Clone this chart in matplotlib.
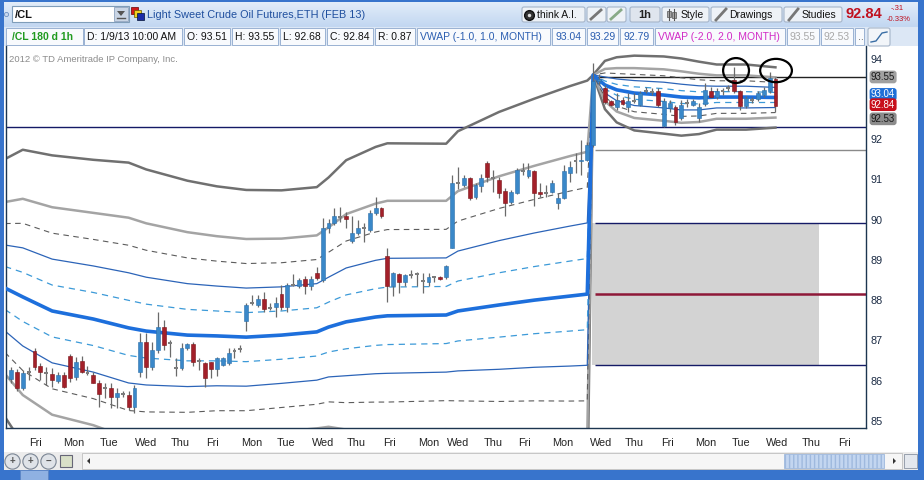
import numpy as np
import matplotlib
matplotlib.use('Agg')
import matplotlib.pyplot as plt
from matplotlib.patches import Rectangle, FancyBboxPatch, Ellipse, Polygon
from matplotlib.colors import LinearSegmentedColormap
from matplotlib.transforms import blended_transform_factory, offset_copy

plt.rcParams['font.family'] = ['Liberation Sans', 'DejaVu Sans']

# /CL hourly candles, Dec 7 2012 -> Jan 9 2013 (one entry per bar)
opens = [86.04, 86.22, 85.81, 86.21, 86.74, 86.35, 86.20, 86.16, 85.99, 86.14,
         86.61, 86.08, 86.49, 86.19, 86.15, 85.95, 85.81, 85.81, 85.58, 85.67,
         85.64, 85.34, 86.22, 86.97, 86.33, 86.76, 87.34, 86.93, 86.30, 86.31,
         86.80, 86.90, 86.48, 86.43, 86.45, 86.28, 86.39, 86.43, 86.74, 86.78,
         87.47, 87.92, 87.88, 88.03, 87.80, 87.82, 88.15, 87.84, 88.38, 88.36,
         88.52, 88.34, 88.67, 88.50, 89.79, 89.91, 90.08, 90.09, 89.48, 89.68,
         89.79, 89.75, 90.16, 90.29, 89.10, 88.34, 88.65, 88.46, 88.63, 88.65,
         88.49, 88.46, 88.57, 88.57, 88.57, 89.29, 90.92, 90.87, 91.03, 90.57,
         90.84, 91.41, 91.03, 90.99, 90.72, 90.43, 90.67, 91.22, 91.09, 91.20,
         90.70, 90.68, 90.70, 90.41, 90.53, 91.17, 91.47, 91.45, 91.49, 91.86,
         93.45, 93.28, 92.94, 92.81, 92.98, 92.80, 92.94, 92.86, 93.21, 93.19,
         93.21, 92.33, 92.77, 92.80, 92.53, 92.91, 92.86, 92.53, 92.88, 93.21,
         93.05, 93.19, 93.27, 93.48, 93.19, 92.83, 92.98, 93.00, 93.10, 93.19,
         93.51]
highs = [86.34, 86.28, 86.26, 86.34, 86.81, 86.43, 86.33, 86.31, 86.22, 86.22,
         86.66, 86.59, 86.61, 86.35, 86.22, 86.01, 85.95, 85.93, 85.81, 85.73,
         85.73, 85.89, 87.18, 87.18, 86.97, 87.71, 87.51, 87.01, 86.56, 86.93,
         86.93, 86.97, 86.55, 86.47, 86.47, 86.59, 86.59, 86.80, 86.80, 86.88,
         87.92, 88.13, 88.13, 88.19, 87.92, 88.09, 88.38, 88.42, 88.65, 88.55,
         88.60, 88.60, 88.83, 90.04, 90.01, 90.29, 90.31, 90.20, 90.08, 89.99,
         89.91, 90.24, 90.56, 90.32, 89.29, 88.71, 88.68, 88.65, 88.75, 88.71,
         88.67, 88.67, 88.60, 88.60, 88.88, 91.11, 91.31, 91.11, 91.07, 90.92,
         91.14, 91.47, 91.24, 91.06, 90.78, 90.74, 91.29, 91.41, 91.41, 91.24,
         90.92, 90.87, 90.99, 90.66, 91.36, 91.45, 91.65, 91.97, 91.94, 93.90,
         93.62, 93.35, 92.98, 93.15, 93.05, 93.15, 93.16, 93.20, 93.31, 93.28,
         93.27, 93.02, 92.98, 92.86, 92.98, 92.99, 92.99, 92.90, 93.39, 93.30,
         93.28, 93.27, 93.35, 93.81, 93.23, 93.08, 93.06, 93.19, 93.31, 93.68,
         93.55]
lows = [85.95, 85.73, 85.77, 86.01, 86.26, 86.01, 85.89, 85.85, 85.93, 85.81,
        85.97, 86.01, 86.18, 86.14, 85.93, 85.34, 85.56, 85.31, 85.31, 85.60,
        85.27, 85.19, 86.10, 86.06, 86.26, 86.68, 86.76, 86.59, 86.11, 86.26,
        86.76, 86.35, 86.26, 85.83, 86.06, 86.11, 86.36, 86.39, 86.55, 86.71,
        87.22, 87.88, 87.84, 87.71, 87.76, 87.59, 87.76, 87.71, 88.34, 88.30,
        88.15, 88.25, 88.50, 88.46, 89.66, 89.87, 89.95, 89.79, 89.43, 89.62,
        89.45, 89.70, 90.12, 90.04, 87.96, 88.10, 88.17, 88.35, 88.54, 88.35,
        88.17, 88.34, 88.44, 88.49, 88.52, 89.29, 90.76, 90.82, 90.48, 90.52,
        90.70, 90.95, 90.70, 90.53, 90.08, 90.39, 90.64, 91.12, 91.03, 90.33,
        90.57, 90.57, 90.67, 90.26, 90.51, 90.95, 91.16, 91.12, 91.45, 91.80,
        93.35, 92.88, 92.83, 92.73, 92.85, 92.69, 92.90, 92.83, 93.15, 93.10,
        92.81, 92.30, 92.69, 92.36, 92.48, 92.81, 92.83, 92.44, 92.83, 93.02,
        93.00, 93.10, 93.21, 93.15, 92.73, 92.78, 92.90, 92.94, 93.06, 93.16,
        92.68]
closes = [86.25, 85.81, 86.20, 86.23, 86.33, 86.21, 86.19, 86.01, 86.14, 85.85,
          86.07, 86.47, 86.22, 86.20, 85.95, 85.67, 85.80, 85.58, 85.68, 85.66,
          85.34, 85.82, 86.97, 86.33, 86.76, 87.34, 86.89, 86.92, 86.31, 86.80,
          86.90, 86.47, 86.47, 86.06, 86.28, 86.55, 86.55, 86.69, 86.73, 86.77,
          87.88, 87.93, 88.03, 87.77, 87.79, 87.94, 87.84, 88.38, 88.37, 88.50,
          88.35, 88.52, 88.54, 89.79, 89.91, 90.08, 90.07, 90.01, 89.68, 89.79,
          89.78, 90.16, 90.29, 90.09, 88.34, 88.67, 88.46, 88.63, 88.62, 88.66,
          88.48, 88.58, 88.57, 88.52, 88.85, 90.91, 90.93, 91.03, 90.53, 90.87,
          91.03, 91.06, 91.03, 90.66, 90.41, 90.70, 91.24, 91.22, 91.24, 90.67,
          90.64, 90.67, 90.92, 90.53, 91.20, 91.31, 91.47, 91.49, 91.86, 93.45,
          93.50, 92.93, 92.86, 92.98, 92.88, 92.94, 92.94, 93.16, 93.21, 93.18,
          92.86, 92.96, 92.90, 92.44, 92.86, 92.91, 92.94, 92.81, 93.23, 93.05,
          93.21, 93.19, 93.27, 93.21, 92.83, 93.02, 92.98, 93.15, 93.23, 93.52,
          92.84]

# monthly VWAP and its standard deviation, read at these bar indexes
band_idx = [-1, 2, 7, 14, 20, 23, 30, 35, 40, 46, 52, 54, 57, 62, 64, 74, 76, 83, 89, 95, 98,
            99, 101, 103, 106, 111, 114, 117, 120, 125, 130]
vwap = [88.30, 88.08, 87.73, 87.53, 87.31, 87.23, 87.13, 87.11, 87.08, 87.13, 87.21,
        87.33, 87.46, 87.58, 87.61, 87.63, 87.73, 87.88, 88.00, 88.10, 88.15,
        93.60, 93.35, 93.23, 93.15, 93.10, 93.05, 93.03, 93.05, 93.05, 93.04]
vwap_sd = [1.07, 1.22, 1.29, 1.32, 1.37, 1.34, 1.28, 1.24, 1.22, 1.20, 1.20,
           1.24, 1.34, 1.41, 1.43, 1.42, 1.49, 1.60, 1.67, 1.74, 1.77,
           0.0, 0.20, 0.27, 0.31, 0.32, 0.32, 0.30, 0.27, 0.27, 0.25]

# price levels drawn from the January open
high_line = 93.55
full_line = 92.31
dec_upper2 = 91.74
dec_upper1 = 89.92
dec_vwap = 88.15
dec_lower1 = 86.39

day_labels = ['Fri', 'Mon', 'Tue', 'Wed', 'Thu', 'Fri', 'Mon', 'Tue', 'Wed', 'Thu', 'Fri',
              'Mon', 'Wed', 'Thu', 'Fri', 'Mon', 'Wed', 'Thu', 'Fri', 'Mon', 'Tue', 'Wed',
              'Thu', 'Fri']
day_pos = [4.1, 10.7, 16.7, 23.0, 28.7, 34.2, 41.0, 46.8, 53.0, 58.7, 64.3, 71.1, 76.0,
           82.0, 87.4, 93.9, 100.3, 106.0, 111.6, 118.2, 124.1, 130.3, 136.0, 141.7]

price_ticks = [85, 86, 87, 88, 89, 90, 91, 92, 94]
# value, text, box colour, text colour, vertical nudge in points (stacked like the platform)
tags = [(93.55, '93.55', '#a0a0a0', '#1a1a1a', 0),
        (93.04, '93.04', '#1f6fd6', 'white', 2.2),
        (92.53, '92.53', '#8c8c8c', '#1a1a1a', -0.6),
        (92.84, '92.84', '#c8101c', 'white', 0.6)]

fig = plt.figure(figsize=(9.24, 4.8), dpi=100)

# ---- window chrome, in pixel coordinates ----
bg = fig.add_axes([0, 0, 1, 1], zorder=0)
bg.axis('off')
frame = '#3874cc'


def box(x0, y0, x1, y1, **kw):
    bg.add_patch(Rectangle((x0, y0), x1 - x0, y1 - y0, **kw))


def button(x0, y0, x1, y1, fc='#eef2f7'):
    bg.add_patch(FancyBboxPatch((x0, y0), x1 - x0, y1 - y0, boxstyle='round,pad=0,rounding_size=2',
                                fc=fc, ec='#a6b5c9', lw=0.8))


grad = np.linspace(0, 1, 40).reshape(-1, 1)
bg.imshow(grad, extent=(0, 924, 27, 0), aspect='auto', zorder=0,
          cmap=LinearSegmentedColormap.from_list('top', ['#e4eefa', '#c2d7f1']))
box(0, 27, 924, 46, fc='#dce7f5', ec='none')
box(0, 46, 924, 480, fc='white', ec='none')
box(0, 0, 924, 2, fc=frame, ec='none')
box(0, 0, 4, 480, fc=frame, ec='none')
box(918, 0, 924, 480, fc=frame, ec='none')

# symbol box
bg.plot([6], [14], 'o', ms=3, mfc='#c8d8ee', mec='#6b8fc0', mew=0.6)
box(12, 6, 129, 22, fc='white', ec='#7f9db9', lw=0.8)
bg.text(15, 14.5, '/CL', fontsize=8, weight='bold', va='center', color='#111')
box(114, 7, 128, 21, fc='#c9d5e5', ec='#8ea3bf', lw=0.6)
bg.add_patch(Polygon([[117, 11], [125, 11], [121, 16]], closed=True, fc='#555', ec='none'))
bg.plot([117, 125], [18, 18], color='#555', lw=1)
box(131, 7, 138, 14, fc='#d01818', ec='#600', lw=0.5)
box(134, 10, 141, 17, fc='#f0d020', ec='#650', lw=0.5)
box(137, 13, 144, 20, fc='#1c2ca8', ec='#013', lw=0.5)
bg.text(147, 14.5, 'Light Sweet Crude Oil Futures,ETH (FEB 13)', fontsize=7.8,
        va='center', color='#1f4f9e')

# toolbar buttons on the right
button(522, 7, 585, 22)
bg.plot([529], [14.5], 'o', ms=7, mfc='#333', mec='#111')
bg.plot([529], [14.5], 'o', ms=2.5, mfc='#ddd', mec='none')
bg.text(537, 14.5, 'think A.I.', fontsize=7.5, va='center', color='#111')
button(587, 7, 606, 22)
button(607, 7, 626, 22)
bg.plot([591, 601], [19, 10], color='#777', lw=2)
bg.plot([611, 621], [19, 10], color='#8a8', lw=2)
button(630, 7, 660, 22, fc='#dfe5ee')
bg.text(645, 14.5, '1h', fontsize=8, weight='bold', va='center', ha='center', color='#222')
button(662, 7, 709, 22)
bg.plot([669, 669], [9, 20], color='#555', lw=0.8)
bg.plot([674, 674], [9, 20], color='#555', lw=0.8)
box(667, 11, 671, 17, fc='#aaa', ec='#555', lw=0.5)
box(672, 12, 676, 18, fc='#aaa', ec='#555', lw=0.5)
bg.text(681, 14.5, 'Style', fontsize=7.5, va='center', color='#111')
button(711, 7, 782, 22)
bg.plot([716, 726], [20, 9], color='#777', lw=2)
bg.text(729, 14.5, 'Drawings', fontsize=7.5, va='center', color='#111')
button(784, 7, 842, 22)
bg.plot([789, 798], [20, 9], color='#777', lw=2)
bg.text(802, 14.5, 'Studies', fontsize=7.5, va='center', color='#111')
bg.text(845, 14.5, '92.84', fontsize=10.5, weight='bold', va='center', color='#c0101e')
bg.text(891, 9, '-.31', fontsize=5.5, va='center', color='#c0101e')
bg.text(887, 19.5, '-0.33%', fontsize=5.5, va='center', color='#c0101e')

# header row of studies
cells = [(6, 83, '/CL 180 d 1h', '#1f9a1f', 'bold'),
         (84, 182, 'D: 1/9/13 10:00 AM', '#111', 'normal'),
         (184, 230, 'O: 93.51', '#111', 'normal'),
         (232, 278, 'H: 93.55', '#111', 'normal'),
         (280, 325, 'L: 92.68', '#111', 'normal'),
         (327, 373, 'C: 92.84', '#111', 'normal'),
         (375, 415, 'R: 0.87', '#111', 'normal'),
         (417, 550, 'VWAP (-1.0, 1.0, MONTH)', '#2a5db0', 'normal'),
         (552, 585, '93.04', '#2a5db0', 'normal'),
         (587, 618, '93.29', '#2a5db0', 'normal'),
         (620, 653, '92.79', '#2a5db0', 'normal'),
         (655, 785, 'VWAP (-2.0, 2.0, MONTH)', '#d22ac6', 'normal'),
         (787, 819, '93.55', '#a8a8a8', 'normal'),
         (821, 853, '92.53', '#a8a8a8', 'normal'),
         (855, 864, '..', '#555', 'normal')]
for x0, x1, txt, col, wt in cells:
    box(x0, 28, x1, 45, fc='#f8fafd', ec='#9ab2d2', lw=0.7)
    bg.text(x0 + 3 if x0 > 6 else x0 + 6, 36.8, txt, fontsize=7.5, weight=wt, va='center', color=col)
button(868, 28, 890, 46, fc='#f2f5f9')
bg.plot([871, 876, 882, 887], [42, 41, 33, 32], color='#3a6ea5', lw=1)

# bottom scroll bar
box(4, 452, 918, 470, fc='#ececec', ec='none')
for i, sym in enumerate(['+', '+', '\u2212', '']):
    cx = 12 + i * 18
    if i < 3:
        bg.plot([cx], [461], 'o', ms=11, mfc='#dfe3e8', mec='#7a8594', mew=0.8)
        bg.text(cx, 461, sym, fontsize=7, ha='center', va='center', color='#555', weight='bold')
    else:
        box(cx - 6, 455, cx + 6, 467, fc='#d9e0c8', ec='#667', lw=0.8)
box(82, 453, 902, 469, fc='#f6f6f6', ec='#bfbfbf', lw=0.6)
box(784, 454, 884, 468, fc='#c3d6f0', ec='#9fb9de', lw=0.6, hatch='||||')
bg.add_patch(Polygon([[90, 458], [90, 464], [87, 461]], closed=True, fc='#333'))
bg.add_patch(Polygon([[893, 458], [893, 464], [896, 461]], closed=True, fc='#333'))
box(904, 454, 917, 468, fc='#e4e8ee', ec='#8a94a2', lw=0.6)
box(0, 470, 924, 480, fc=frame, ec='none')
box(20, 470, 48, 480, fc='#8fb1e2', ec='#5d86c4', lw=0.6)
bg.set_xlim(0, 924)
bg.set_ylim(480, 0)

# ---- price chart ----
ax = fig.add_axes([6 / 924, 52 / 480, 860 / 924, 382 / 480], zorder=1)
ax.set_facecolor('white')
ax.set_xlim(-0.85, 145.4)
ax.set_ylim(84.82, 94.32)
xmax = 145.4

ax.text(0.003, 0.965, '2012 \u00a9 TD Ameritrade IP Company, Inc.', transform=ax.transAxes,
        fontsize=6.8, va='center', color='#8c8c8c', zorder=8)

bx = np.array(band_idx)
vw = np.array(vwap)
sd = np.array(vwap_sd)
band_styles = [(3.0, '#707070', '-', 1.8),
               (2.0, '#a4a4a4', '-', 1.8),
               (1.5, '#5c5c5c', (0, (5, 4)), 0.8),
               (1.0, '#2c64b8', '-', 0.9),
               (0.5, '#3c9ad8', (0, (5, 4)), 0.9)]
for k, col, ls, lw in band_styles:
    for s in (1, -1):
        ax.plot(bx, vw + s * k * sd, color=col, ls=ls, lw=lw, zorder=2)
ax.plot(bx, vw, color='#1d6fdc', lw=2.6, zorder=3)

# level lines and shaded month range
jan_start = 99.3
ax.add_patch(Rectangle((98.8, dec_lower1), 137.4 - 98.8, dec_upper1 - dec_lower1,
                       fc='#d3d3d3', ec='none', zorder=1))
ax.hlines(full_line, -0.85, xmax, color='#141a66', lw=1.0, zorder=1.5)
ax.hlines(high_line, jan_start, xmax, color='#222222', lw=1.0, zorder=1.5)
ax.hlines(dec_upper2, jan_start, xmax, color='#8a8a8a', lw=1.0, zorder=1.5)
ax.hlines([dec_upper1, dec_lower1], jan_start, xmax, color='#141a66', lw=1.0, zorder=1.5)
ax.hlines(dec_vwap, jan_start, xmax, color='#8e1838', lw=1.8, zorder=1.5)

# candles
o, h, l, c = (np.array(v) for v in (opens, highs, lows, closes))
x = np.arange(len(o))
up = (c - o) >= 0.03
dn = (o - c) >= 0.03
dj = ~(up | dn)
ax.vlines(x, l, h, color='#6a6a6a', lw=0.9, zorder=4)
ax.bar(x[up], (c - o)[up], bottom=o[up], width=0.66, color='#3a88c9', edgecolor='#2d6fa8',
       lw=0.4, zorder=5)
ax.bar(x[dn], (o - c)[dn], bottom=c[dn], width=0.66, color='#a3202a', edgecolor='#7a1418',
       lw=0.4, zorder=5)
ax.bar(x[dj], 0.05, bottom=((o + c) / 2 - 0.025)[dj], width=0.66, color='#7c7c7c', zorder=5)

# drawn circles around the two highs
ax.add_patch(Ellipse((123.3, 93.71), 4.4, 0.62, fill=False, ec='black', lw=1.6, zorder=6))
ax.add_patch(Ellipse((130.1, 93.71), 5.4, 0.58, fill=False, ec='black', lw=1.6, zorder=6))

# axes styling
for side in ('left', 'bottom', 'right'):
    ax.spines[side].set_color('#1c3550')
    ax.spines[side].set_linewidth(1)
ax.spines['top'].set_visible(False)
ax.yaxis.tick_right()
ax.set_yticks(price_ticks)
ax.set_yticklabels([str(t) for t in price_ticks])
ax.tick_params(axis='y', length=0, pad=3, labelsize=7.8, labelcolor='#1b2b44')
ax.set_xticks(day_pos)
ax.set_xticklabels(day_labels)
ax.tick_params(axis='x', length=0, pad=7, labelsize=7.8, labelcolor='#222')

tr = blended_transform_factory(ax.transAxes, ax.transData)
for val, txt, fc, tc, dy in tags:
    ax.text(1.0058, val, txt, transform=offset_copy(tr, fig=fig, y=dy, units='points'),
            fontsize=7.0, va='center', ha='left', color=tc, clip_on=False, zorder=7,
            bbox=dict(boxstyle='round,pad=0.14,rounding_size=0.3', fc=fc, ec='none'))

fig.savefig('out.png', dpi=100)
